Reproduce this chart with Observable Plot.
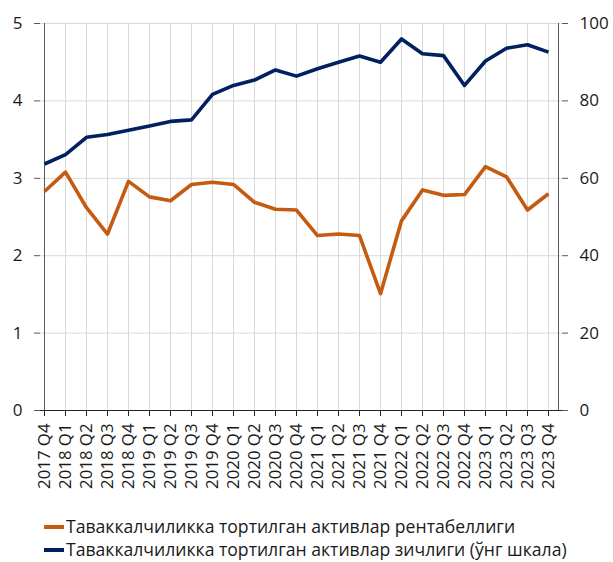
<!DOCTYPE html>
<html>
<head>
<meta charset="utf-8">
<script src="https://cdn.jsdelivr.net/npm/d3@7"></script>
<script src="https://cdn.jsdelivr.net/npm/@observablehq/plot@0.6"></script>
<style>
  html, body { margin: 0; padding: 0; background: #fff; }
  body { width: 613px; height: 562px; overflow: hidden; font-family: "Open Sans", sans-serif; }
  #legend { position: absolute; left: 44px; top: 515px; font-size: 17.6px; color: #1a1a1a; }
  .row { display: flex; align-items: center; height: 23px; line-height: 23px; white-space: nowrap; }
  .sw { width: 20px; height: 4px; margin-right: 2px; }
</style>
</head>
<body>
<div id="chart"></div>
<div id="legend"></div>
<script>
const quarters = ["2017 Q4","2018 Q1","2018 Q2","2018 Q3","2018 Q4","2019 Q1","2019 Q2","2019 Q3","2019 Q4","2020 Q1","2020 Q2","2020 Q3","2020 Q4","2021 Q1","2021 Q2","2021 Q3","2021 Q4","2022 Q1","2022 Q2","2022 Q3","2022 Q4","2023 Q1","2023 Q2","2023 Q3","2023 Q4"];
const profitability = [2.83,3.08,2.62,2.28,2.96,2.76,2.71,2.92,2.95,2.92,2.69,2.60,2.59,2.26,2.28,2.26,1.51,2.45,2.85,2.78,2.79,3.15,3.02,2.59,2.80];
const density = [63.7,66.1,70.6,71.3,72.4,73.5,74.7,75.1,81.7,84.0,85.4,88.0,86.4,88.3,90.0,91.6,90.0,96.0,92.2,91.7,84.0,90.3,93.6,94.5,92.6];
const leftTicks = [0,1,2,3,4,5];
const rightScaleFactor = 20; // right axis 0–100 maps onto left 0–5
const seriesNames = ["Таваккалчиликка тортилган активлар рентабеллиги","Таваккалчиликка тортилган активлар зичлиги (ўнг шкала)"];
const colors = ["#C55A11","#002060"];

const orange = quarters.map((q,i) => ({q, v: profitability[i]}));
const navy = quarters.map((q,i) => ({q, v: density[i] / rightScaleFactor}));

const axisColor = "#595959";
const font = "Open Sans, sans-serif";

const chart = Plot.plot({
  width: 613,
  height: 505,
  marginLeft: 40,
  marginRight: 52,
  marginTop: 23,
  marginBottom: 95,
  style: {fontFamily: font, fontSize: "17px", color: "#1a1a1a", background: "#fff"},
  x: {type: "point", domain: quarters, range: [40, 551], padding: 0},
  y: {domain: [0, 5], range: [410, 23]},
  marks: [
    Plot.ruleX(quarters.slice(1), {y1: 0, y2: 5, stroke: "#d9d9d9", strokeWidth: 1}),
    Plot.ruleY(leftTicks.slice(1), {stroke: "#d9d9d9", strokeWidth: 1}),
    Plot.ruleX([quarters[0]], {y1: 0, y2: 5, stroke: axisColor, strokeWidth: 1}),
    Plot.ruleX([quarters[quarters.length-1]], {y1: 0, y2: 5, dx: 10, stroke: axisColor, strokeWidth: 1}),
    Plot.ruleY([0], {stroke: "#222", strokeWidth: 1, insetLeft: -6, insetRight: -7}),
    Plot.axisY({anchor: "left", ticks: leftTicks, tickSize: 6, tickPadding: 12, fontSize: 17, label: null, stroke: axisColor, tickFormat: d3.format("d")}),
    Plot.axisY({anchor: "right", ticks: leftTicks, tickSize: 6, tickPadding: 12, fontSize: 17, label: null, stroke: axisColor, tickFormat: d => String(d * rightScaleFactor)}),
    Plot.axisX({anchor: "bottom", tickSize: 6, tickPadding: 7, tickRotate: -90, fontSize: 16.8, label: null, stroke: "#222"}),
    Plot.line(orange, {x: "q", y: "v", stroke: colors[0], strokeWidth: 3.6, strokeLinejoin: "round", strokeLinecap: "butt"}),
    Plot.line(navy, {x: "q", y: "v", stroke: colors[1], strokeWidth: 3.6, strokeLinejoin: "round", strokeLinecap: "butt"})
  ]
});
document.getElementById("chart").appendChild(chart);

const legend = document.getElementById("legend");
seriesNames.forEach((name, i) => {
  const row = document.createElement("div");
  row.className = "row";
  const sw = document.createElement("span");
  sw.className = "sw";
  sw.style.background = colors[i];
  const t = document.createElement("span");
  t.textContent = name;
  row.appendChild(sw);
  row.appendChild(t);
  legend.appendChild(row);
});
</script>
</body>
</html>
